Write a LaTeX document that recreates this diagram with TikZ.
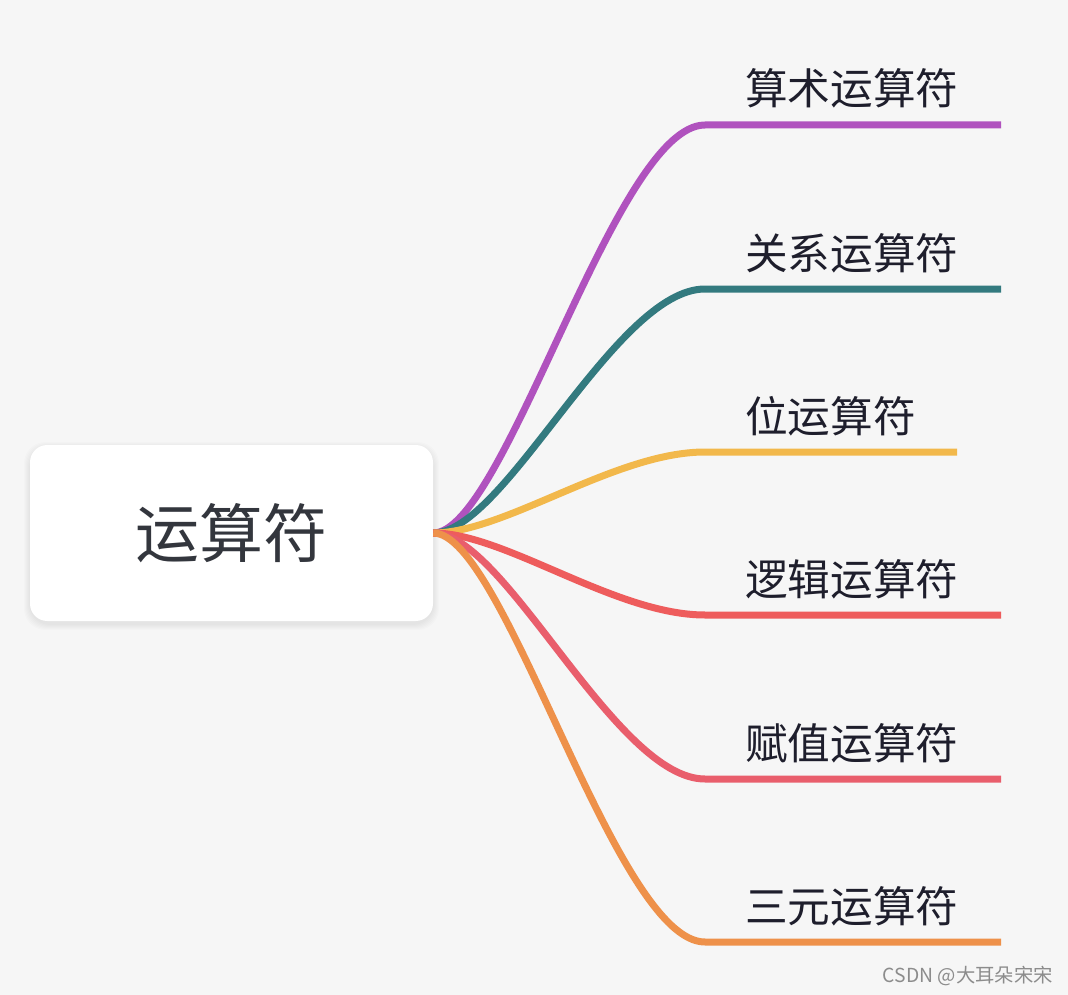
\documentclass[tikz,border=0pt]{standalone}
\usepackage{fontspec}
\newfontfamily\cjk{Noto Sans CJK SC}
\definecolor{bgGray}{HTML}{F6F6F6}
\definecolor{rootText}{HTML}{33363D}
\definecolor{leafText}{HTML}{1E1E2C}
\definecolor{cPurple}{HTML}{B052BE}
\definecolor{cTeal}{HTML}{337A7F}
\definecolor{cYellow}{HTML}{F2B84B}
\definecolor{cRed}{HTML}{EE5C5C}
\definecolor{cPink}{HTML}{E95E6C}
\definecolor{cOrange}{HTML}{EE914A}
\begin{document}
\begin{tikzpicture}[x=0.75pt, y=-0.75pt,
    rootbox/.style={fill=white, rounded corners=13pt, minimum width=302.25pt, minimum height=132pt,
      font=\cjk\fontsize{48}{56}\selectfont, text=rootText},
    leaf/.style={inner sep=0pt, font=\cjk\fontsize{32}{38}\selectfont, text=leafText},
    branch/.style={line width=5.25pt}]
    \fill[bgGray] (0,0) rectangle (1068,995);
    \useasboundingbox (0,0) rectangle (1068,995);
    % soft shadow under the root
    \foreach \k in {1,...,6}
      \fill[black, opacity=0.012, rounded corners=16pt] (30-\k,{445+3-\k}) rectangle (433+\k,{621+3+\k});
    \node[rootbox] (root) at (231.5,533) {运算符};
    \foreach \name/\txt/\col/\y/\xe in {arith/算术运算符/cPurple/125/1001, rel/关系运算符/cTeal/289/1001,
        bit/位运算符/cYellow/452/957, logic/逻辑运算符/cRed/615/1001,
        assign/赋值运算符/cPink/779/1001, tern/三元运算符/cOrange/942/1001} {
      \coordinate (\name-end) at (\xe,\y);
      \draw[branch, \col] (root.east) .. controls (505,533) and (615,\y) .. (705,\y) -- (\name-end);
      \node[leaf, anchor=base west] (\name) at (745,{\y-20}) {\txt};
    }
    \node[anchor=base east, inner sep=0pt, font=\cjk\fontsize{14.5}{17}\selectfont, text=black!45] (mark) at (1053,982) {CSDN @大耳朵宋宋};
  \end{tikzpicture}
\end{document}
